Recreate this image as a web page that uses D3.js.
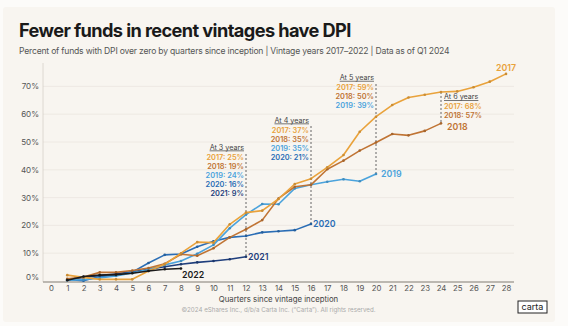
<!DOCTYPE html>
<html>
<head>
<meta charset="utf-8">
<script src="https://cdn.jsdelivr.net/npm/d3@7"></script>
<style>
  html, body { margin: 0; padding: 0; background: #fcfbf9; }
  svg { display: block; font-family: Inter, "Noto Sans", sans-serif; }
</style>
</head>
<body>
<div id="chart"></div>
<script>
// quarters on the x axis
const quarters = d3.range(0, 29);
const yTicks = [0, 10, 20, 30, 40, 50, 60, 70];

// percent of funds with DPI > 0, by quarter (starting at quarter 1)
const v2017 = [2.1, 1.3, 0.6, 0.6, 0.6, 3.6, 6.0, 10.0, 14.0, 13.8, 20.4, 24.6, 25.3, 29.5, 34.9, 36.8, 40.9, 45.3, 53.7, 59.1, 63.3, 66.0, 67.0, 68.0, 68.2, 69.7, 71.7, 74.5];
const v2018 = [0.8, 1.4, 3.1, 3.1, 3.8, 4.7, 6.2, 9.6, 9.1, 11.8, 15.7, 18.6, 21.9, 29.7, 33.9, 34.6, 40.2, 43.3, 46.9, 49.8, 52.9, 52.4, 54.0, 56.7];
const v2019 = [0.3, 0.5, 1.1, 1.8, 2.9, 4.1, 5.8, 7.2, 9.8, 13.0, 19.0, 23.9, 27.7, 27.6, 33.3, 34.6, 35.7, 36.6, 35.9, 38.5];
const v2020 = [0.6, 0.1, 1.6, 2.0, 3.2, 6.5, 9.4, 9.7, 12.3, 14.3, 15.7, 16.2, 17.5, 17.9, 18.3, 20.5];
const v2021 = [0.5, 1.3, 2.0, 2.6, 3.3, 4.2, 5.1, 6.0, 6.7, 7.2, 7.8, 8.7];
const v2022 = [0.3, 1.6, 2.1, 2.3, 2.8, 3.6, 4.2, 4.5];

const vintages = ["2017", "2018", "2019", "2020", "2021", "2022"];
const colors = ["#e9a23b", "#c07434", "#4ba3dc", "#2a6db5", "#1f3e7c", "#1b1b1b"];

// call-outs
const calloutQ = [12, 16, 20, 24];
const calloutTitle = ["At 3 years", "At 4 years", "At 5 years", "At 6 years"];
const calloutText = [
  ["2017: 25%", "2018: 19%", "2019: 24%", "2020: 16%", "2021: 9%"],
  ["2017: 37%", "2018: 35%", "2019: 35%", "2020: 21%"],
  ["2017: 59%", "2018: 50%", "2019: 39%"],
  ["2017: 68%", "2018: 57%"]
];

const width = 568, height = 326;
const series = [v2017, v2018, v2019, v2020, v2021, v2022].map((vals, i) => ({
  name: vintages[i],
  color: colors[i],
  points: vals.map((v, j) => ({ q: j + 1, v: v }))
}));

const svg = d3.select("#chart").append("svg")
  .attr("width", width)
  .attr("height", height);

// card
svg.append("rect")
  .attr("x", 3).attr("y", 7)
  .attr("width", 552).attr("height", 315)
  .attr("rx", 3)
  .attr("fill", "#f8f5f0");

svg.append("text")
  .attr("x", 19).attr("y", 37)
  .attr("font-size", 18.2)
  .attr("font-weight", 700)
  .attr("letter-spacing", -0.6)
  .attr("fill", "#1a1a1a")
  .text("Fewer funds in recent vintages have DPI");

svg.append("text")
  .attr("x", 19).attr("y", 54)
  .attr("font-size", 8.6)
  .attr("fill", "#555")
  .attr("letter-spacing", -0.2)
  .text("Percent of funds with DPI over zero by quarters since inception | Vintage years 2017\u20132022 | Data as of Q1 2024");

const x = d3.scaleLinear().domain([0, 28]).range([51, 506]);
const y = d3.scaleLinear().domain([0, 70]).range([281, 86.4]);

// grid
svg.append("g")
  .selectAll("line")
  .data(yTicks.filter(d => d > 0))
  .join("line")
  .attr("x1", 43).attr("x2", 514)
  .attr("y1", d => y(d)).attr("y2", d => y(d))
  .attr("stroke", "#ebe6df")
  .attr("stroke-width", 0.8);

// y axis
const yAxis = svg.append("g")
  .attr("transform", "translate(43,0)")
  .call(d3.axisLeft(y).tickValues(yTicks).tickSize(0).tickPadding(4).tickFormat(d => d + "%"));
yAxis.select(".domain").remove();
yAxis.selectAll("text")
  .attr("font-size", 8)
  .attr("fill", "#555")
  .attr("font-family", "Inter, sans-serif")
  .attr("dy", d => d === 0 ? "-0.15em" : "0.32em");

svg.append("line")
  .attr("x1", 43).attr("x2", 43)
  .attr("y1", 63).attr("y2", 282)
  .attr("stroke", "#d5d0c9").attr("stroke-width", 0.8);

// x axis
const xAxis = svg.append("g")
  .attr("transform", "translate(0,282)")
  .call(d3.axisBottom(x).tickValues(quarters).tickSize(0).tickPadding(3).tickFormat(d3.format("d")));
xAxis.select(".domain").remove();
xAxis.selectAll("text")
  .attr("font-size", 7.8)
  .attr("fill", "#555")
  .attr("font-family", "Inter, sans-serif");

svg.append("line")
  .attr("x1", 43).attr("x2", 514)
  .attr("y1", 282).attr("y2", 282)
  .attr("stroke", "#a8a39c").attr("stroke-width", 1.3);

svg.append("text")
  .attr("x", (x(0) + x(28)) / 2).attr("y", 301.5)
  .attr("text-anchor", "middle")
  .attr("font-size", 7.8)
  .attr("fill", "#444")
  .text("Quarters since vintage inception");

svg.append("text")
  .attr("x", (x(0) + x(28)) / 2).attr("y", 312)
  .attr("text-anchor", "middle")
  .attr("font-size", 6.2)
  .attr("fill", "#aaa")
  .text("\u00a92024 eShares Inc., d/b/a Carta Inc. (\u201cCarta\u201d). All rights reserved.");

// carta logo
svg.append("rect")
  .attr("x", 518).attr("y", 301)
  .attr("width", 29).attr("height", 12)
  .attr("fill", "#fff").attr("stroke", "#222").attr("stroke-width", 1);
svg.append("text")
  .attr("x", 532.5).attr("y", 310)
  .attr("text-anchor", "middle")
  .attr("font-size", 9)
  .attr("fill", "#222")
  .text("carta");

// dashed call-out lines
calloutQ.forEach((q, i) => {
  const vals = series.map(s => s.points.find(p => p.q === q)).filter(Boolean).map(p => p.v);
  const lowV = d3.min(vals);
  let top;
  if (i === 3) top = y(d3.max(vals));
  else top = [154, 126, 84][i];
  svg.append("line")
    .attr("x1", x(q)).attr("x2", x(q))
    .attr("y1", top).attr("y2", y(lowV))
    .attr("stroke", "#555")
    .attr("stroke-width", 0.9)
    .attr("stroke-dasharray", "2,2");
});

// lines
const line = d3.line().x(d => x(d.q)).y(d => y(d.v));
const order = [4, 3, 2, 1, 0, 5];
order.forEach(i => {
  const s = series[i];
  const g = svg.append("g");
  g.append("path")
    .datum(s.points)
    .attr("d", line)
    .attr("fill", "none")
    .attr("stroke", s.color)
    .attr("stroke-width", 1.6)
    .attr("stroke-linejoin", "round");
  g.selectAll("circle")
    .data(s.points)
    .join("circle")
    .attr("cx", d => x(d.q)).attr("cy", d => y(d.v))
    .attr("r", 1.3)
    .attr("fill", d3.color(s.color).darker(0.4));
});

// end labels
const endOffsets = [[0, -6, "middle"], [6, 3.5, "start"], [5, 0, "start"], [2, 0, "start"], [2, 0, "start"], [1, 6, "start"]];
series.forEach((s, i) => {
  const last = s.points[s.points.length - 1];
  const o = endOffsets[i];
  svg.append("text")
    .attr("x", x(last.q) + o[0])
    .attr("y", y(last.v) + o[1])
    .attr("dy", "0.35em")
    .attr("text-anchor", o[2])
    .attr("font-size", 8.8)
    .attr("font-weight", 600)
    .attr("fill", s.color)
    .text(s.name);
});

// call-out text
const calloutTop = [147, 120, 77.3, 96.5];
calloutQ.forEach((q, i) => {
  const right = i < 3;
  const tx = right ? x(q) - 2 : x(q) + 3;
  const anchor = right ? "end" : "start";
  svg.append("text")
    .attr("x", tx).attr("y", calloutTop[i])
    .attr("dy", "0.35em")
    .attr("text-anchor", anchor)
    .attr("font-size", 7.2)
    .attr("fill", "#444")
    .attr("text-decoration", "underline")
    .text(calloutTitle[i]);
  calloutText[i].forEach((txt, j) => {
    svg.append("text")
      .attr("x", tx).attr("y", calloutTop[i] + 10 + j * 9)
      .attr("dy", "0.35em")
      .attr("text-anchor", anchor)
      .attr("font-size", 7.4)
      .attr("font-weight", 600)
      .attr("fill", colors[j])
      .text(txt);
  });
});
</script>
</body>
</html>
